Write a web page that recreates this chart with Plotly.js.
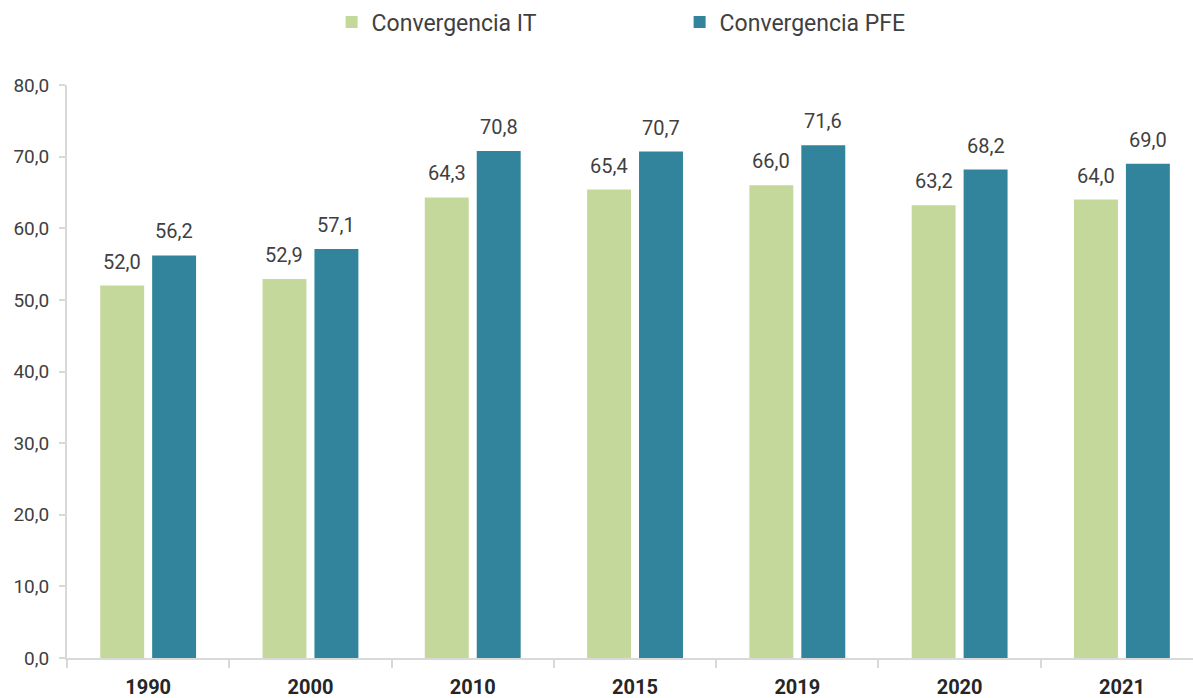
<!DOCTYPE html>
<html>
<head>
<meta charset="utf-8">
<script src="https://cdn.plot.ly/plotly-3.0.1.min.js"></script>
<style>html,body{margin:0;padding:0;background:#fff;}#chart{width:1193px;height:698px;}</style>
</head>
<body>
<div id="chart"></div>
<script>
const years = ['1990','2000','2010','2015','2019','2020','2021'];
const convergenciaIT = [52.0, 52.9, 64.3, 65.4, 66.0, 63.2, 64.0];
const convergenciaPFE = [56.2, 57.1, 70.8, 70.7, 71.6, 68.2, 69.0];
const yTicks = [0,10,20,30,40,50,60,70,80];

const labelFont = {family: 'Roboto, sans-serif', size: 20, color: '#404040'};
const traces = [
  {type:'bar', name:'Convergencia IT', x: years, y: convergenciaIT,
   marker:{color:'#C5D89C'}, hoverinfo:'none'},
  {type:'bar', name:'Convergencia PFE', x: years, y: convergenciaPFE,
   marker:{color:'#31849B'}, hoverinfo:'none'}
];
const fmt = v => v.toFixed(1).replace('.', ',');
const annotations = [];
years.forEach((yr, i) => {
  annotations.push({x: i, y: convergenciaIT[i], xref:'x', yref:'y', text: fmt(convergenciaIT[i]),
    showarrow:false, xshift:-26, yshift:10, yanchor:'bottom', font: labelFont});
  annotations.push({x: i, y: convergenciaPFE[i], xref:'x', yref:'y', text: fmt(convergenciaPFE[i]),
    showarrow:false, xshift:26, yshift:10, yanchor:'bottom', font: labelFont});
});
const layout = {
  width:1193, height:698,
  margin:{l:67, r:0, t:85, b:40, autoexpand:false},
  paper_bgcolor:'#fff', plot_bgcolor:'#fff',
  separators:',.',
  barmode:'group', bargap:0.36, bargroupgap:0.154,
  font:{family:'Roboto, sans-serif', color:'#404040', size:17},
  showlegend:true,
  annotations: annotations,
  legend:{orientation:'h', x:0.235, xanchor:'left', y:1.11, yanchor:'middle',
    font:{size:23, color:'#404040'}, itemwidth:30, entrywidth:303, traceorder:'normal'},
  xaxis:{type:'category', range:[-0.5, 6.438], showline:true, linecolor:'#d9d9d9', linewidth:2,
    ticks:'outside', tickson:'boundaries', ticklen:8, tickcolor:'#d9d9d9', tickwidth:2,
    tickfont:{family:'Roboto, sans-serif', size:20, color:'#262626', weight:'bold'},
    ticklabelstandoff:10, showgrid:false, fixedrange:true},
  yaxis:{range:[0,80], tickvals:yTicks, tickformat:'.1f', showline:true, linecolor:'#d9d9d9', linewidth:2,
    ticks:'outside', ticklen:6, tickcolor:'#d9d9d9', tickwidth:2, showgrid:false, zeroline:false,
    tickfont:{family:'Roboto, sans-serif', size:19, color:'#404040'}, ticklabelstandoff:6}
};
Plotly.newPlot('chart', traces, layout, {displayModeBar:false, staticPlot:true});
</script>
</body>
</html>
